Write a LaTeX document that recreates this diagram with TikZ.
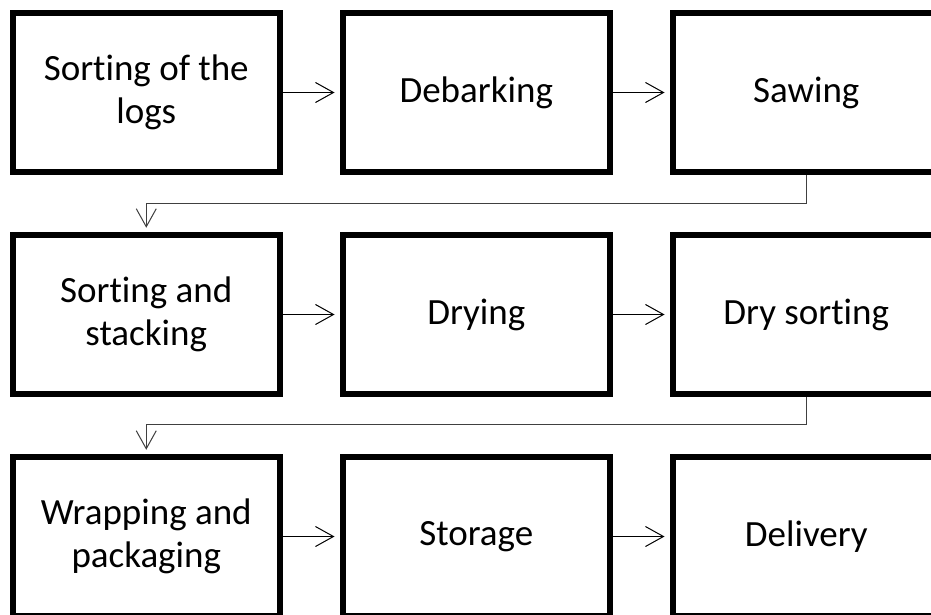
\documentclass[tikz,border=0pt]{standalone}
\usepackage{fontspec}
\setmainfont[Ligatures=NoCommon]{Carlito}
\usetikzlibrary{arrows.meta}
\begin{document}
\begin{tikzpicture}[x=1pt,y=-1pt,
  stage/.style={draw=black, line width=6pt, rectangle, minimum width=267.5pt, minimum height=159.5pt,
    align=center, inner sep=0pt, font=\fontsize{37}{43}\selectfont, fill=white},
  flow/.style={line width=1pt, -{Straight Barb[length=18pt,width=20pt,line width=1pt]}, shorten >=5pt},
  turn/.style={line width=1pt, draw=black!75, -{Straight Barb[length=18pt,width=20pt,line width=1pt]}, shorten >=4pt}]
\useasboundingbox (0,0) rectangle (931,615);
\clip (0,0) rectangle (931,615);
\node[stage] (a1) at (146.25,92.5) {Sorting of the\\logs};
\node[stage] (a2) at (476.25,92.5) {Debarking};
\node[stage] (a3) at (806.25,92.5) {Sawing};
\node[stage] (b1) at (146.25,314.5) {Sorting and\\stacking};
\node[stage] (b2) at (476.25,314.5) {Drying};
\node[stage] (b3) at (806.25,314.5) {Dry sorting};
\node[stage] (c1) at (146.25,536.5) {Wrapping and\\packaging};
\node[stage] (c2) at (476.25,536.5) {Storage};
\node[stage] (c3) at (806.25,536.5) {Delivery};
\coordinate (k1) at (806.25,203);
\coordinate (k2) at (146.25,203);
\coordinate (k3) at (806.25,424);
\coordinate (k4) at (146.25,424);
\draw[flow] (a1) -- (a2);
\draw[flow] (a2) -- (a3);
\draw[flow] (b1) -- (b2);
\draw[flow] (b2) -- (b3);
\draw[flow] (c1) -- (c2);
\draw[flow] (c2) -- (c3);
\draw[turn] (a3.south) -- (k1) -- (k2) -- (b1.north);
\draw[turn] (b3.south) -- (k3) -- (k4) -- (c1.north);
\end{tikzpicture}
\end{document}
